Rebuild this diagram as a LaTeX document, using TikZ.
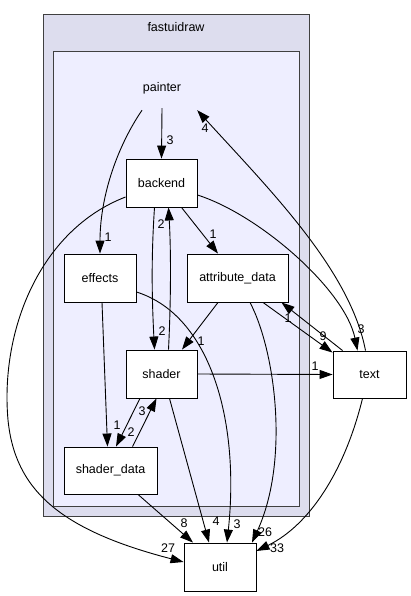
\documentclass[tikz,border=0pt]{standalone}
\usepackage{fontspec}
\setmainfont{Liberation Sans}
\usetikzlibrary{arrows.meta,calc}
\begin{document}
\begin{tikzpicture}[x=1pt,y=-1pt,
  every node/.style={font=\fontsize{12.5}{15}\selectfont, inner sep=0pt},
  box/.style={draw=black, fill=white, line width=0.9pt, minimum height=48pt},
  cluster/.style={draw=black!75, line width=1pt},
  edge/.style={draw=black, line width=0.9pt, -{Triangle[length=13pt,width=9pt]}},
  lbl/.style={font=\fontsize{12.5}{15}\selectfont}
]
\useasboundingbox (0,0) rectangle (411,596);
% clusters
\node[cluster, fill={rgb,255:red,221;green,221;blue,238}, minimum width=266pt, minimum height=501pt] (fastuidrawbox) at (176,265.5) {};
\node (fastuidrawlbl) at (176,27) {fastuidraw};
\node[cluster, fill={rgb,255:red,238;green,238;blue,255}, minimum width=246pt, minimum height=454pt] (painterbox) at (176,279) {};
\node[minimum width=70pt, minimum height=40pt] (painter) at (162,88) {painter};
% nodes
\node[box, minimum width=71pt] (backend) at (161.5,183) {backend};
\node[box, minimum width=72pt] (effects) at (100,278) {effects};
\node[box, minimum width=101pt] (attr) at (237.5,278) {attribute\_data};
\node[box, minimum width=71pt] (shader) at (161.5,374) {shader};
\node[box, minimum width=93pt, minimum height=47pt] (shaderdata) at (110.5,470.5) {shader\_data};
\node[box, minimum width=72pt] (util) at (220,567) {util};
\node[box, minimum width=73pt, minimum height=47pt] (text) at (369.5,374.5) {text};
% edges
\draw[edge] (painter.south) -- (backend.north);
\node[lbl] (l1) at (170,140) {3};
\draw[edge] ($(painter.south)+(-20,2)$) .. controls (115,150) and (100,200) .. (effects.north);
\node[lbl] (l2) at (108,237) {1};
\draw[edge] ($(backend.south)+(20,0)$) -- ($(attr.north)+(-19.5,0)$);
\node[lbl] (l3) at (213,234) {1};
\draw[edge] ($(backend.south)+(-7,0)$) .. controls (151,260) and (152,300) .. ($(shader.north)+(-7,0)$);
\node[lbl] (l4) at (162,331) {2};
\draw[edge] ($(shader.north)+(7,0)$) .. controls (171,300) and (171,250) .. ($(backend.south)+(7,0)$);
\node[lbl] (l5) at (161,224) {2};
\draw[edge] ($(backend.east)+(0,12)$) .. controls (260,215) and (345,290) .. ($(text.north)+(-12,0)$);
\node[lbl] (l6) at (361,329) {3};
\draw[edge] ($(text.north)+(-4,0)$) .. controls (350,270) and (270,190) .. ($(painter.south east)+(0,2)$);
\node[lbl] (l7) at (205,128) {4};
\draw[edge] ($(backend.west)+(0,14)$) .. controls (40,230) and (0,330) .. (8,420) .. controls (15,490) and (60,530) .. ($(util.west)+(0,-5)$);
\node[lbl] (l8) at (168,548) {27};
\draw[edge] ($(effects.south)+(2,0)$) -- ($(shaderdata.north)+(-3,0)$);
\node[lbl] (l9) at (117,425) {1};
\draw[edge] ($(effects.east)+(0,14)$) .. controls (210,315) and (240,420) .. ($(util.north)+(7,0)$);
\node[lbl] (l10) at (237,524) {3};
\draw[edge] ($(attr.south)+(-19.5,0)$) -- ($(shader.north)+(20.5,0)$);
\node[lbl] (l11) at (201,341) {1};
\draw[edge] ($(attr.south)+(25.5,0)$) -- ($(text.north west)+(0,2)$);
\node[lbl] (l12) at (323,336) {9};
\draw[edge] ($(text.north west)+(10,0)$) -- ($(attr.south)+(44,0)$);
\node[lbl] (l13) at (288,318) {1};
\draw[edge] ($(attr.south)+(12.5,0)$) .. controls (275,350) and (290,460) .. ($(util.north)+(32,0)$);
\node[lbl] (l14) at (265,532) {26};
\draw[edge] (shader.east) -- (text.west);
\node[lbl] (l15) at (315,366) {1};
\draw[edge] ($(shader.south)+(-21.5,0)$) -- ($(shaderdata.north)+(5.5,0)$);
\node[lbl] (l16) at (131,432) {2};
\draw[edge] ($(shaderdata.north)+(22,0)$) -- ($(shader.south)+(-5,0)$);
\node[lbl] (l17) at (142,411) {3};
\draw[edge] ($(shader.south)+(8,0)$) -- ($(util.north)+(-11,0)$);
\node[lbl] (l18) at (216,521) {4};
\draw[edge] ($(shaderdata.south)+(27.5,0)$) -- ($(util.north)+(-27,0)$);
\node[lbl] (l19) at (184,523) {8};
\draw[edge] ($(text.south)+(-7,0)$) .. controls (345,470) and (310,525) .. ($(util.east)+(0,-16)$);
\node[lbl] (l20) at (277,548) {33};
\end{tikzpicture}
\end{document}
